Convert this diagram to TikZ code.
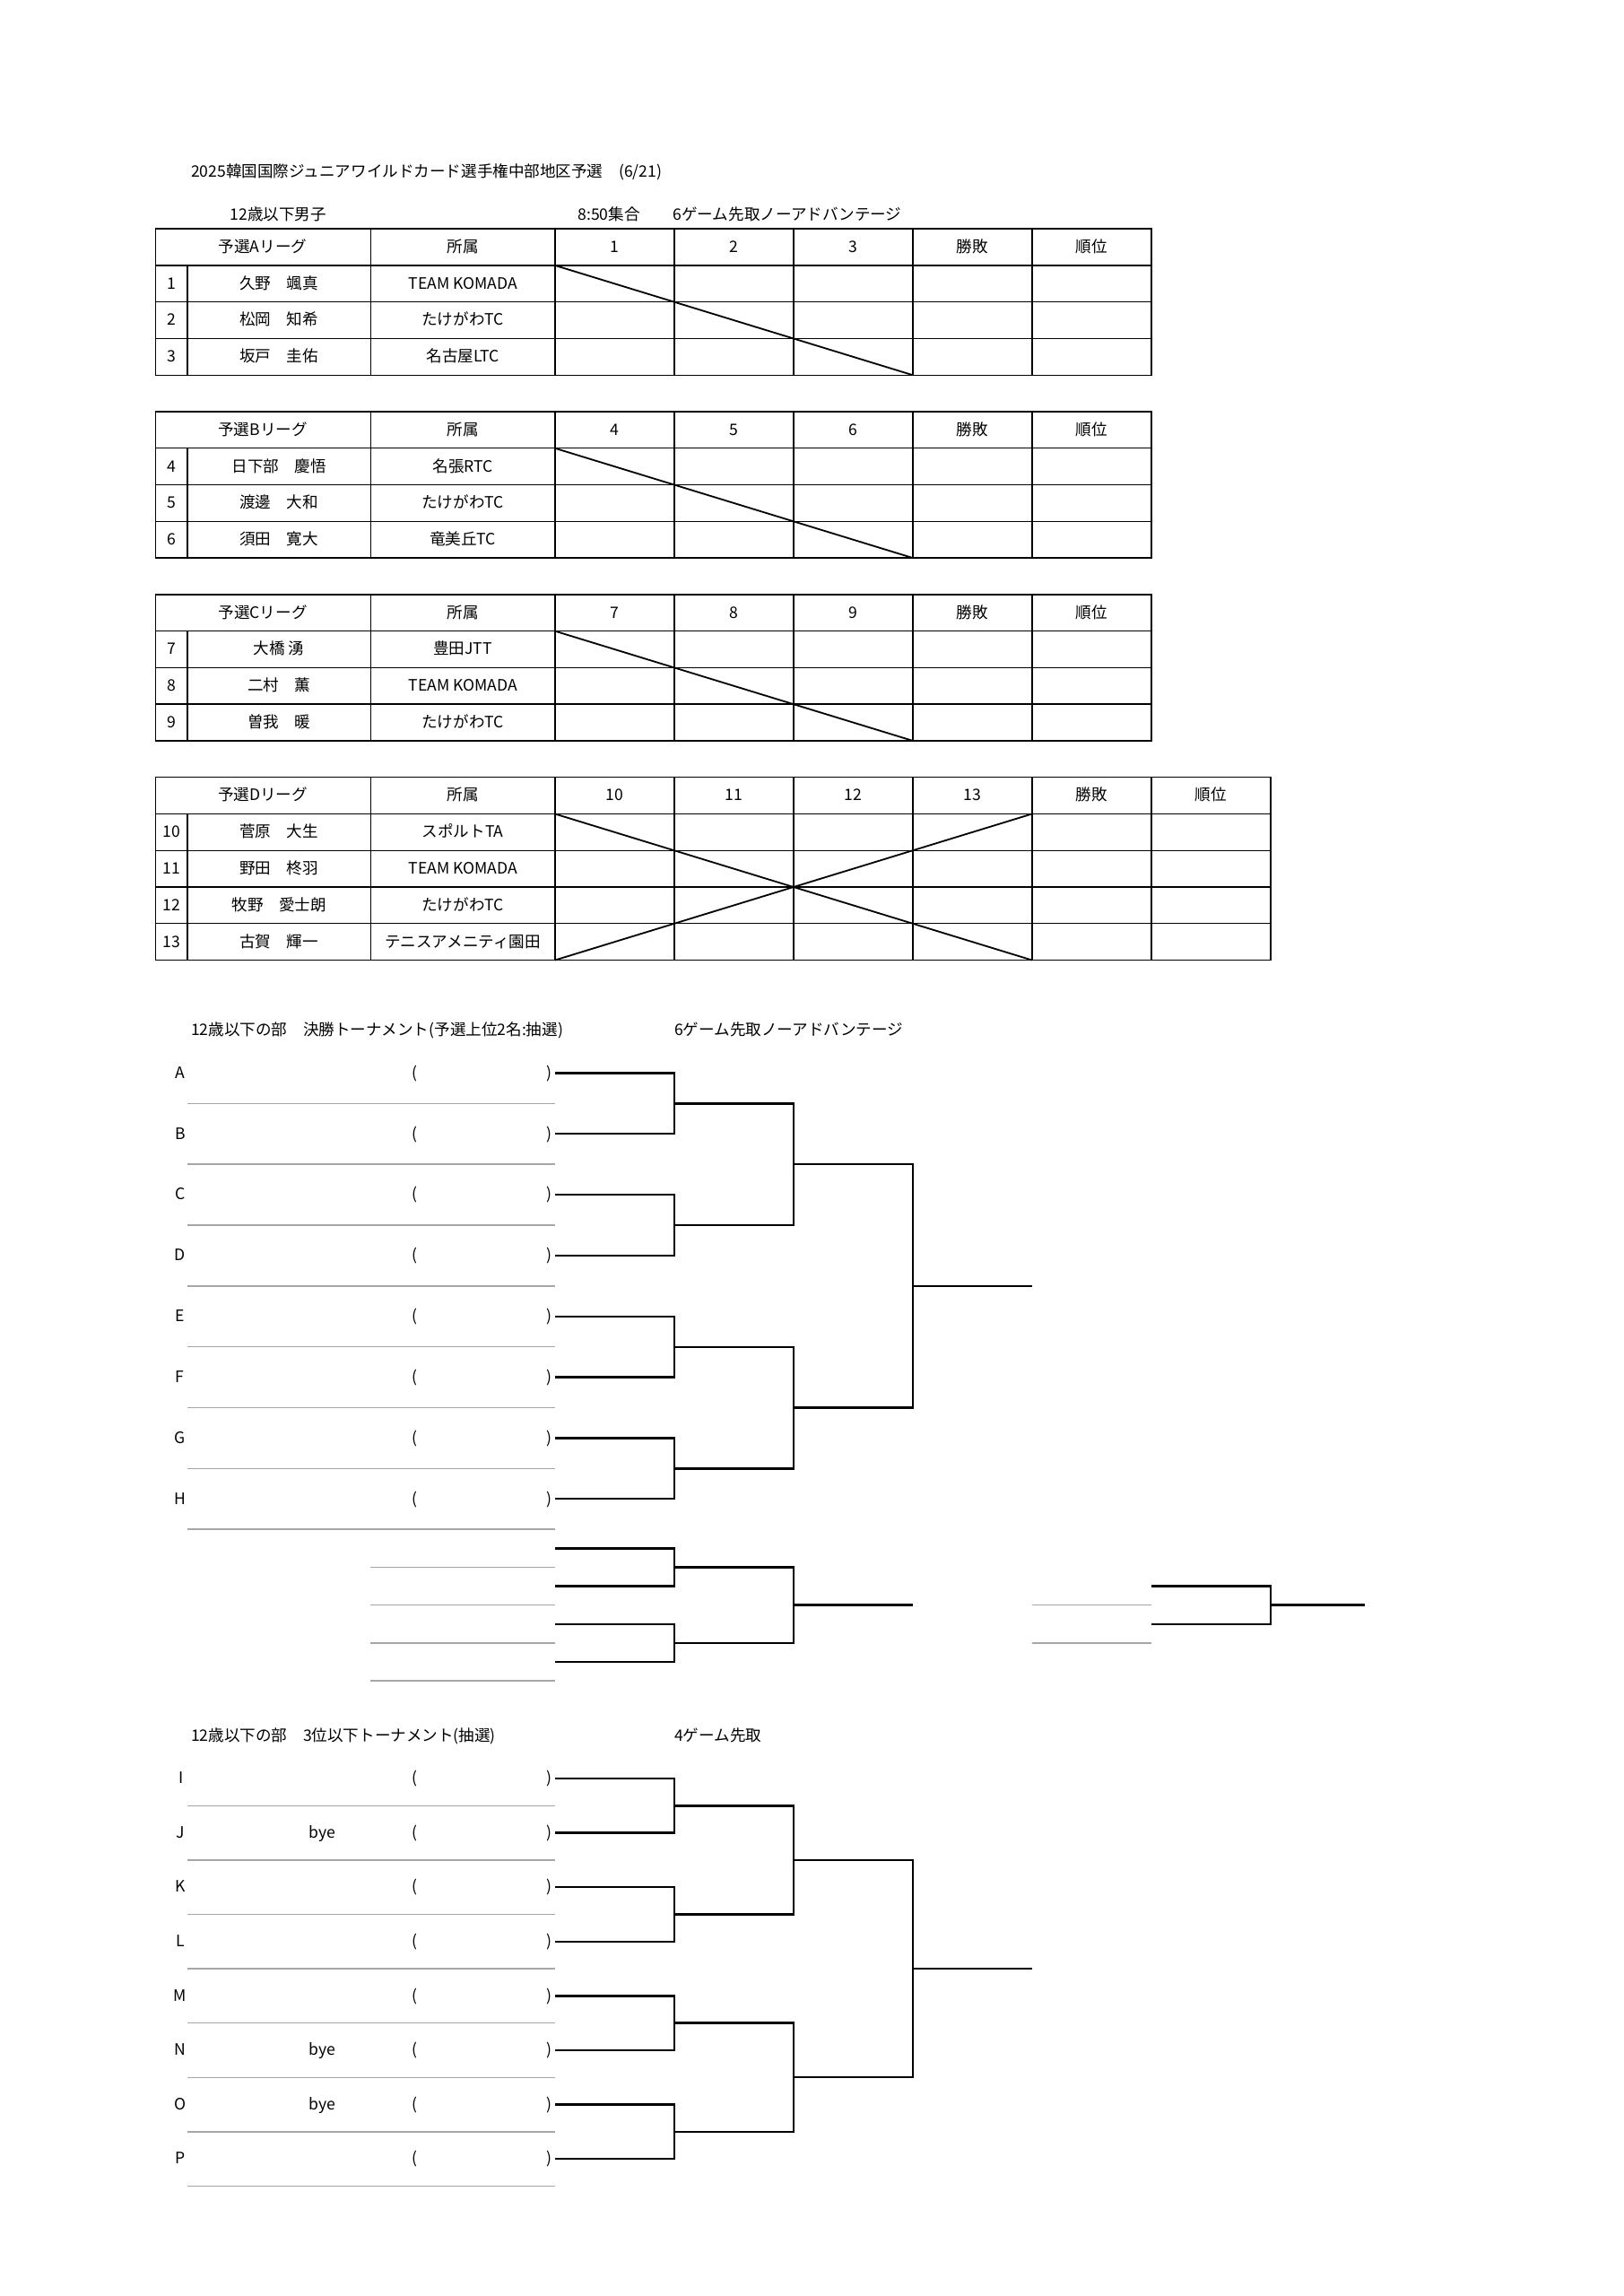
\documentclass[tikz,border=0pt]{standalone}
\usepackage{fontspec}
\setmainfont{Noto Sans CJK JP}
\newcommand{\sheetsize}{\fontsize{5.8}{6.9}\selectfont}

\begin{document}
\begin{tikzpicture}[
    x=1mm, y=-1mm,
    txt/.style={
        inner sep=0pt,
        font=\sheetsize,
        text height=0.8em,
        text depth=0.15em,
        yshift=0.47mm,
    },
    ruling/.style={
        line width=0.45pt,
    },
    diag/.style={
        line width=0.6pt,
    },
    bracket/.style={
        line width=0.8pt,
    },
    entry/.style={
        line width=0.5pt,
        black!35,
    },
]
    % Page
    \useasboundingbox (0,0) rectangle (210,297);

    % Headings
    \node[txt, anchor=west] (title) at (24.65,22.25) {2025韓国国際ジュニアワイルドカード選手権中部地区予選　(6/21)};
    \node[txt, anchor=west] (group) at (29.7,27.75) {12歳以下男子};
    \node[txt, anchor=west] (meet) at (74.7,27.75) {8:50集合};
    \node[txt, anchor=west] (rule) at (87.0,27.75) {6ゲーム先取ノーアドバンテージ};

    % League A
    \draw[ruling] (20.1,29.6) rectangle (148.95,48.52);
    \draw[ruling] (20.1,34.33) -- (148.95,34.33) (20.1,39.06) -- (148.95,39.06) (20.1,43.79) -- (148.95,43.79);
    \draw[ruling] (24.25,34.33) -- (24.25,48.52) (47.95,29.6) -- (47.95,48.52) (71.8,29.6) -- (71.8,48.52)
        (87.23,29.6) -- (87.23,48.52) (102.66,29.6) -- (102.66,48.52) (118.09,29.6) -- (118.09,48.52) (133.52,29.6) -- (133.52,48.52);
    \draw[diag] (71.8,34.33) -- (118.09,48.52);
    \node[txt] (hdA) at (34,31.97) {予選Aリーグ};
    \node[txt] (afA) at (59.88,31.97) {所属};
    \node[txt] (a1) at (79.52,31.97) {1};
    \node[txt] (a2) at (94.95,31.97) {2};
    \node[txt] (a3) at (110.38,31.97) {3};
    \node[txt] (wlA) at (125.8,31.97) {勝敗};
    \node[txt] (rkA) at (141.24,31.97) {順位};
    \node[txt] (nA1) at (22.18,36.70) {1};
    \node[txt] (plA1) at (36.1,36.70) {久野　颯真};
    \node[txt] (clA1) at (59.88,36.70) {TEAM KOMADA};
    \node[txt] (nA2) at (22.18,41.43) {2};
    \node[txt] (plA2) at (36.1,41.43) {松岡　知希};
    \node[txt] (clA2) at (59.88,41.43) {たけがわTC};
    \node[txt] (nA3) at (22.18,46.16) {3};
    \node[txt] (plA3) at (36.1,46.16) {坂戸　圭佑};
    \node[txt] (clA3) at (59.88,46.16) {名古屋LTC};

    % League B
    \draw[ruling] (20.1,53.25) rectangle (148.95,72.17);
    \draw[ruling] (20.1,57.98) -- (148.95,57.98) (20.1,62.71) -- (148.95,62.71) (20.1,67.44) -- (148.95,67.44);
    \draw[ruling] (24.25,57.98) -- (24.25,72.17) (47.95,53.25) -- (47.95,72.17) (71.8,53.25) -- (71.8,72.17)
        (87.23,53.25) -- (87.23,72.17) (102.66,53.25) -- (102.66,72.17) (118.09,53.25) -- (118.09,72.17) (133.52,53.25) -- (133.52,72.17);
    \draw[diag] (71.8,57.98) -- (118.09,72.17);
    \node[txt] (hdB) at (34,55.62) {予選Bリーグ};
    \node[txt] (afB) at (59.88,55.62) {所属};
    \node[txt] (b4) at (79.52,55.62) {4};
    \node[txt] (b5) at (94.95,55.62) {5};
    \node[txt] (b6) at (110.38,55.62) {6};
    \node[txt] (wlB) at (125.8,55.62) {勝敗};
    \node[txt] (rkB) at (141.24,55.62) {順位};
    \node[txt] (nB4) at (22.18,60.35) {4};
    \node[txt] (plB4) at (36.1,60.35) {日下部　慶悟};
    \node[txt] (clB4) at (59.88,60.35) {名張RTC};
    \node[txt] (nB5) at (22.18,65.08) {5};
    \node[txt] (plB5) at (36.1,65.08) {渡邊　大和};
    \node[txt] (clB5) at (59.88,65.08) {たけがわTC};
    \node[txt] (nB6) at (22.18,69.81) {6};
    \node[txt] (plB6) at (36.1,69.81) {須田　寛大};
    \node[txt] (clB6) at (59.88,69.81) {竜美丘TC};

    % League C
    \draw[ruling] (20.1,76.9) rectangle (148.95,95.82);
    \draw[ruling] (20.1,81.63) -- (148.95,81.63) (20.1,86.36) -- (148.95,86.36) (20.1,91.09) -- (148.95,91.09);
    \draw[ruling] (24.25,81.63) -- (24.25,95.82) (47.95,76.9) -- (47.95,95.82) (71.8,76.9) -- (71.8,95.82)
        (87.23,76.9) -- (87.23,95.82) (102.66,76.9) -- (102.66,95.82) (118.09,76.9) -- (118.09,95.82) (133.52,76.9) -- (133.52,95.82);
    \draw[diag] (71.8,81.63) -- (118.09,95.82);
    \node[txt] (hdC) at (34,79.27) {予選Cリーグ};
    \node[txt] (afC) at (59.88,79.27) {所属};
    \node[txt] (c7) at (79.52,79.27) {7};
    \node[txt] (c8) at (94.95,79.27) {8};
    \node[txt] (c9) at (110.38,79.27) {9};
    \node[txt] (wlC) at (125.8,79.27) {勝敗};
    \node[txt] (rkC) at (141.24,79.27) {順位};
    \node[txt] (nC7) at (22.18,84.00) {7};
    \node[txt] (plC7) at (36.1,84.00) {大橋 湧};
    \node[txt] (clC7) at (59.88,84.00) {豊田JTT};
    \node[txt] (nC8) at (22.18,88.73) {8};
    \node[txt] (plC8) at (36.1,88.73) {二村　薫};
    \node[txt] (clC8) at (59.88,88.73) {TEAM KOMADA};
    \node[txt] (nC9) at (22.18,93.46) {9};
    \node[txt] (plC9) at (36.1,93.46) {曽我　暖};
    \node[txt] (clC9) at (59.88,93.46) {たけがわTC};

    % League D
    \draw[ruling] (20.1,100.55) rectangle (164.38,124.2);
    \draw[ruling] (20.1,105.28) -- (164.38,105.28) (20.1,110.01) -- (164.38,110.01) (20.1,114.74) -- (164.38,114.74) (20.1,119.47) -- (164.38,119.47);
    \draw[ruling] (24.25,105.28) -- (24.25,124.2) (47.95,100.55) -- (47.95,124.2) (71.8,100.55) -- (71.8,124.2)
        (87.23,100.55) -- (87.23,124.2) (102.66,100.55) -- (102.66,124.2) (118.09,100.55) -- (118.09,124.2)
        (133.52,100.55) -- (133.52,124.2) (148.95,100.55) -- (148.95,124.2);
    \draw[diag] (71.8,105.28) -- (133.52,124.2) (71.8,124.2) -- (133.52,105.28);
    \node[txt] (hdD) at (34,102.92) {予選Dリーグ};
    \node[txt] (afD) at (59.88,102.92) {所属};
    \node[txt] (d10) at (79.52,102.92) {10};
    \node[txt] (d11) at (94.95,102.92) {11};
    \node[txt] (d12) at (110.38,102.92) {12};
    \node[txt] (d13) at (125.8,102.92) {13};
    \node[txt] (wlD) at (141.24,102.92) {勝敗};
    \node[txt] (rkD) at (156.67,102.92) {順位};
    \node[txt] (nD10) at (22.18,107.65) {10};
    \node[txt] (plD10) at (36.1,107.65) {菅原　大生};
    \node[txt] (clD10) at (59.88,107.65) {スポルトTA};
    \node[txt] (nD11) at (22.18,112.38) {11};
    \node[txt] (plD11) at (36.1,112.38) {野田　柊羽};
    \node[txt] (clD11) at (59.88,112.38) {TEAM KOMADA};
    \node[txt] (nD12) at (22.18,117.11) {12};
    \node[txt] (plD12) at (36.1,117.11) {牧野　愛士朗};
    \node[txt] (clD12) at (59.88,117.11) {たけがわTC};
    \node[txt] (nD13) at (22.18,121.84) {13};
    \node[txt] (plD13) at (36.1,121.84) {古賀　輝一};
    \node[txt] (clD13) at (59.88,121.84) {テニスアメニティ園田};

    % Final tournament
    \node[txt, anchor=west] (headF) at (24.65,133.3) {12歳以下の部　決勝トーナメント(予選上位2名:抽選)};
    \node[txt, anchor=west] (ruleF) at (87.2,133.3) {6ゲーム先取ノーアドバンテージ};

    \node[txt] (lA) at (23.3,138.8) {A};
    \node[txt] (oA) at (53.7,138.8) {(};
    \node[txt] (cA) at (71.0,138.8) {)};
    \node[txt] (lB) at (23.3,146.67) {B};
    \node[txt] (oB) at (53.7,146.67) {(};
    \node[txt] (cB) at (71.0,146.67) {)};
    \node[txt] (lC) at (23.3,154.54) {C};
    \node[txt] (oC) at (53.7,154.54) {(};
    \node[txt] (cC) at (71.0,154.54) {)};
    \node[txt] (lD) at (23.3,162.41) {D};
    \node[txt] (oD) at (53.7,162.41) {(};
    \node[txt] (cD) at (71.0,162.41) {)};
    \node[txt] (lE) at (23.3,170.28) {E};
    \node[txt] (oE) at (53.7,170.28) {(};
    \node[txt] (cE) at (71.0,170.28) {)};
    \node[txt] (lF) at (23.3,178.15) {F};
    \node[txt] (oF) at (53.7,178.15) {(};
    \node[txt] (cF) at (71.0,178.15) {)};
    \node[txt] (lG) at (23.3,186.02) {G};
    \node[txt] (oG) at (53.7,186.02) {(};
    \node[txt] (cG) at (71.0,186.02) {)};
    \node[txt] (lH) at (23.3,193.89) {H};
    \node[txt] (oH) at (53.7,193.89) {(};
    \node[txt] (cH) at (71.0,193.89) {)};

    \draw[entry] (24.25,142.74) -- (71.8,142.74) (24.25,150.61) -- (71.8,150.61) (24.25,158.48) -- (71.8,158.48)
        (24.25,166.35) -- (71.8,166.35) (24.25,174.22) -- (71.8,174.22) (24.25,182.09) -- (71.8,182.09)
        (24.25,189.96) -- (71.8,189.96) (24.25,197.83) -- (71.8,197.83);

    \coordinate (sA) at (71.8,138.8);
    \coordinate (sB) at (71.8,146.67);
    \coordinate (sC) at (71.8,154.54);
    \coordinate (sD) at (71.8,162.41);
    \coordinate (sE) at (71.8,170.28);
    \coordinate (sF) at (71.8,178.15);
    \coordinate (sG) at (71.8,186.02);
    \coordinate (sH) at (71.8,193.89);
    \coordinate (mAB) at (87.23,142.74);
    \coordinate (mCD) at (87.23,158.48);
    \coordinate (mEF) at (87.23,174.22);
    \coordinate (mGH) at (87.23,189.96);
    \coordinate (mAD) at (102.66,150.61);
    \coordinate (mEH) at (102.66,182.09);
    \coordinate (mAH) at (118.09,166.35);
    \coordinate (wAH) at (133.52,166.35);

    \draw[bracket] (sA) -| (mAB) |- (sB);
    \draw[bracket] (sC) -| (mCD) |- (sD);
    \draw[bracket] (sE) -| (mEF) |- (sF);
    \draw[bracket] (sG) -| (mGH) |- (sH);
    \draw[bracket] (mAB) -| (mAD) |- (mCD);
    \draw[bracket] (mEF) -| (mEH) |- (mGH);
    \draw[bracket] (mAD) -| (mAH) |- (mEH);
    \draw[bracket] (mAH) -- (wAH);

    % Play-off slots
    \draw[entry] (47.95,202.73) -- (71.8,202.73) (47.95,207.63) -- (71.8,207.63)
        (47.95,212.53) -- (71.8,212.53) (47.95,217.43) -- (71.8,217.43);
    \coordinate (x1) at (71.8,200.28);
    \coordinate (x2) at (71.8,205.18);
    \coordinate (x3) at (71.8,210.08);
    \coordinate (x4) at (71.8,214.98);
    \coordinate (m12) at (87.23,202.73);
    \coordinate (m34) at (87.23,212.53);
    \coordinate (m14) at (102.66,207.63);
    \coordinate (w14) at (118.09,207.63);
    \draw[bracket] (x1) -| (m12) |- (x2);
    \draw[bracket] (x3) -| (m34) |- (x4);
    \draw[bracket] (m12) -| (m14) |- (m34);
    \draw[bracket] (m14) -- (w14);

    \draw[entry] (133.52,207.63) -- (148.95,207.63) (133.52,212.53) -- (148.95,212.53);
    \coordinate (y1) at (148.95,205.18);
    \coordinate (y2) at (148.95,210.08);
    \coordinate (m56) at (164.38,207.63);
    \coordinate (w56) at (176.6,207.63);
    \draw[bracket] (y1) -| (m56) |- (y2);
    \draw[bracket] (m56) -- (w56);

    % Consolation tournament
    \node[txt, anchor=west] (headC) at (24.65,224.6) {12歳以下の部　3位以下トーナメント(抽選)};
    \node[txt, anchor=west] (ruleC) at (87.2,224.6) {4ゲーム先取};

    \node[txt] (lI) at (23.5,230.05) {I};
    \node[txt] (oI) at (53.7,230.05) {(};
    \node[txt] (cI) at (71.0,230.05) {)};
    \node[txt] (lJ) at (23.3,237.08) {J};
    \node[txt] (byJ) at (41.7,237.08) {bye};
    \node[txt] (oJ) at (53.7,237.08) {(};
    \node[txt] (cJ) at (71.0,237.08) {)};
    \node[txt] (lK) at (23.3,244.11) {K};
    \node[txt] (oK) at (53.7,244.11) {(};
    \node[txt] (cK) at (71.0,244.11) {)};
    \node[txt] (lL) at (23.3,251.14) {L};
    \node[txt] (oL) at (53.7,251.14) {(};
    \node[txt] (cL) at (71.0,251.14) {)};
    \node[txt] (lM) at (23.3,258.17) {M};
    \node[txt] (oM) at (53.7,258.17) {(};
    \node[txt] (cM) at (71.0,258.17) {)};
    \node[txt] (lN) at (23.3,265.2) {N};
    \node[txt] (byN) at (41.7,265.2) {bye};
    \node[txt] (oN) at (53.7,265.2) {(};
    \node[txt] (cN) at (71.0,265.2) {)};
    \node[txt] (lO) at (23.3,272.23) {O};
    \node[txt] (byO) at (41.7,272.23) {bye};
    \node[txt] (oO) at (53.7,272.23) {(};
    \node[txt] (cO) at (71.0,272.23) {)};
    \node[txt] (lP) at (23.3,279.26) {P};
    \node[txt] (oP) at (53.7,279.26) {(};
    \node[txt] (cP) at (71.0,279.26) {)};

    \draw[entry] (24.25,233.57) -- (71.8,233.57) (24.25,240.6) -- (71.8,240.6) (24.25,247.63) -- (71.8,247.63)
        (24.25,254.66) -- (71.8,254.66) (24.25,261.69) -- (71.8,261.69) (24.25,268.72) -- (71.8,268.72)
        (24.25,275.75) -- (71.8,275.75) (24.25,282.78) -- (71.8,282.78);

    \coordinate (sI) at (71.8,230.05);
    \coordinate (sJ) at (71.8,237.08);
    \coordinate (sK) at (71.8,244.11);
    \coordinate (sL) at (71.8,251.14);
    \coordinate (sM) at (71.8,258.17);
    \coordinate (sN) at (71.8,265.2);
    \coordinate (sO) at (71.8,272.23);
    \coordinate (sP) at (71.8,279.26);
    \coordinate (mIJ) at (87.23,233.57);
    \coordinate (mKL) at (87.23,247.63);
    \coordinate (mMN) at (87.23,261.69);
    \coordinate (mOP) at (87.23,275.75);
    \coordinate (mIL) at (102.66,240.6);
    \coordinate (mMP) at (102.66,268.72);
    \coordinate (mIP) at (118.09,254.66);
    \coordinate (wIP) at (133.52,254.66);

    \draw[bracket] (sI) -| (mIJ) |- (sJ);
    \draw[bracket] (sK) -| (mKL) |- (sL);
    \draw[bracket] (sM) -| (mMN) |- (sN);
    \draw[bracket] (sO) -| (mOP) |- (sP);
    \draw[bracket] (mIJ) -| (mIL) |- (mKL);
    \draw[bracket] (mMN) -| (mMP) |- (mOP);
    \draw[bracket] (mIL) -| (mIP) |- (mMP);
    \draw[bracket] (mIP) -- (wIP);
\end{tikzpicture}
\end{document}
